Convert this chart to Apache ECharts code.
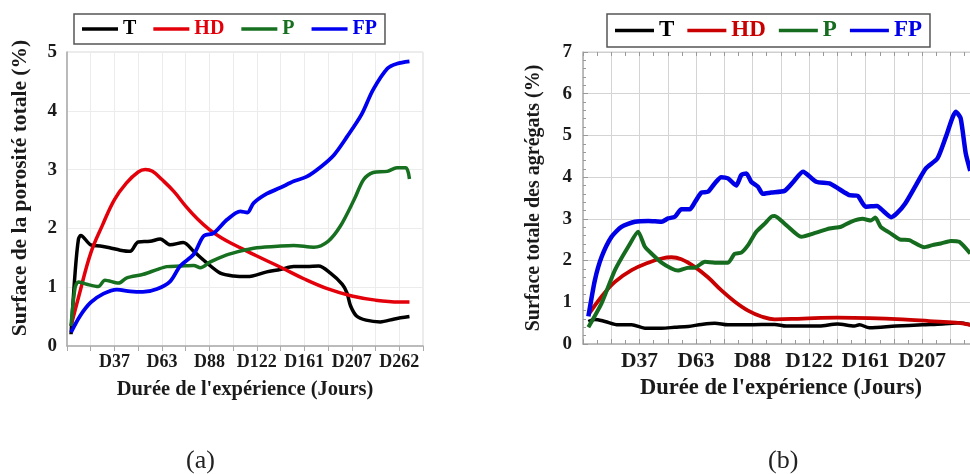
<!DOCTYPE html>
<html>
<head>
<meta charset="utf-8">
<script src="https://cdn.jsdelivr.net/npm/echarts@6/dist/echarts.min.js"></script>
<style>html,body{margin:0;padding:0;background:#fff;overflow:hidden;width:970px;height:474px}#c{width:1010px;height:474px}</style>
</head>
<body>
<div id="c"></div>
<script>
// Tick labels (placed every second grid line, from line 2)
var xTickLabelsA = ['D37','D63','D88','D122','D161','D207','D262'];
var xTickLabelsB = ['D37','D63','D88','D122','D161','D207'];
var seriesNames = ['T','HD','P','FP'];

// Panel (a): Surface de la porosité totale (%)
var aT_x = [0.17,0.34,0.48,0.58,1.0,1.4,1.8,2.24,2.66,3.0,3.5,3.93,4.35,4.9,5.34,5.9,6.46,7.03,7.6,8.42,8.98,9.55,10.1,10.6,11.1,11.6,11.8,11.95,12.2,12.6,13.2,13.8,14.43];
var aT_y = [0.2,1.24,1.81,1.88,1.72,1.70,1.67,1.63,1.61,1.77,1.78,1.82,1.72,1.76,1.61,1.41,1.24,1.19,1.18,1.26,1.30,1.35,1.35,1.36,1.24,1.05,0.9,0.68,0.51,0.44,0.41,0.46,0.50];
var aHD_x = [0.17,0.5,1.0,1.5,2.0,2.5,3.0,3.3,3.6,4.0,4.5,5.0,5.5,6.0,6.5,7.0,7.3,8,9,10,11,12,13,14,14.43];
var aHD_y = [0.34,0.85,1.58,2.06,2.49,2.77,2.96,3.0,2.97,2.83,2.63,2.38,2.16,1.98,1.84,1.73,1.67,1.53,1.34,1.14,0.97,0.85,0.78,0.75,0.75];
var aP_x = [0.17,0.34,0.48,0.83,1.32,1.6,2.17,2.52,3.22,3.79,4.21,4.77,5.34,5.62,6.04,6.6,7.17,7.6,8,9,9.55,10.4,11,11.52,12.1,12.5,12.9,13.5,13.9,14.28,14.43];
var aP_y = [0.34,0.99,1.09,1.05,1.01,1.12,1.07,1.16,1.22,1.30,1.35,1.36,1.37,1.33,1.43,1.53,1.60,1.64,1.67,1.70,1.71,1.68,1.78,2.04,2.49,2.83,2.95,2.97,3.03,3.03,2.84];
var aFP_x = [0.17,0.55,1.0,1.54,2.1,2.66,3.2,3.79,4.35,4.77,5.34,5.76,6.18,6.75,7.3,7.6,7.86,8.42,8.98,9.55,10.1,10.7,11.25,11.8,12.4,12.9,13.5,13.9,14.43];
var aFP_y = [0.23,0.51,0.74,0.89,0.96,0.93,0.92,0.97,1.10,1.36,1.56,1.87,1.92,2.15,2.29,2.27,2.43,2.59,2.69,2.80,2.88,3.05,3.25,3.56,3.93,4.36,4.72,4.80,4.84];

// Panel (b): Surface totale des agrégats (%)
var bT_x = [0.19,0.42,0.78,1.25,1.72,2.19,2.78,3.25,3.72,4.19,4.66,5.13,5.84,6.78,7.19,8.36,9.0,9.6,9.78,10.13,11.07,12.01,12.72,13.31,13.7];
var bT_y = [0.54,0.59,0.54,0.46,0.46,0.38,0.38,0.40,0.42,0.47,0.50,0.46,0.46,0.47,0.43,0.43,0.48,0.43,0.46,0.39,0.43,0.46,0.48,0.51,0.46];
var bHD_x = [0.19,0.66,1.13,1.72,2.31,2.78,3.13,3.48,3.95,4.42,4.89,5.36,5.84,6.31,6.78,7.78,9.0,10.13,11.3,12.25,13.19,13.7];
var bHD_y = [0.70,1.14,1.49,1.77,1.95,2.05,2.08,2.03,1.85,1.60,1.29,1.02,0.80,0.66,0.59,0.61,0.63,0.62,0.59,0.55,0.51,0.46];
var bP_x = [0.19,0.66,1.13,1.6,1.95,2.19,2.42,2.78,3.13,3.36,3.72,3.95,4.31,4.66,5.13,5.36,5.6,5.84,6.13,6.42,6.66,6.78,7.19,7.72,8.25,8.72,9.13,9.48,9.89,10.19,10.34,10.54,10.84,11.2,11.54,12.07,12.36,12.66,13.01,13.31,13.7];
var bP_y = [0.40,0.98,1.77,2.33,2.69,2.33,2.17,1.95,1.81,1.76,1.83,1.83,1.97,1.95,1.95,2.16,2.19,2.37,2.69,2.88,3.05,3.07,2.85,2.57,2.67,2.77,2.81,2.93,3.00,2.96,3.03,2.80,2.67,2.51,2.49,2.32,2.37,2.41,2.47,2.45,2.17];
var bFP_x = [0.19,0.42,0.66,1.01,1.36,1.84,2.31,2.78,3.01,3.25,3.48,3.78,3.95,4.19,4.42,4.66,4.89,5.13,5.42,5.6,5.78,5.95,6.19,6.36,6.66,7.13,7.42,7.78,8.25,8.72,9.07,9.42,9.72,10.0,10.4,10.65,10.9,11.1,11.4,11.78,12.13,12.54,12.84,13.19,13.36,13.54,13.7];
var bFP_y = [0.66,1.53,2.09,2.57,2.81,2.93,2.95,2.93,3.01,3.05,3.23,3.23,3.39,3.63,3.65,3.85,4.00,3.97,3.80,4.05,4.09,3.89,3.77,3.60,3.63,3.67,3.87,4.13,3.89,3.85,3.71,3.57,3.55,3.29,3.31,3.17,3.04,3.13,3.37,3.81,4.21,4.45,4.97,5.57,5.41,4.57,4.15];

function pairs(xs, ys){ return xs.map(function(x,i){ return [x, ys[i]]; }); }
var colorsA = {T:'#000000', HD:'#e3000b', P:'#16701f', FP:'#0000f0'};
var colorsB = {T:'#000000', HD:'#c80000', P:'#156b1e', FP:'#0000e6'};
var FONT = '"Liberation Serif", "DejaVu Serif", serif';

function labelFmt(list){
  return function(v){ return (v > 0 && v % 2 === 0 && list[v/2 - 1]) ? list[v/2 - 1] : ''; };
}

function mkSeries(name, xs, ys, xi, yi, color, width, smooth){
  return {type:'line', name:name, xAxisIndex:xi, yAxisIndex:yi, data:pairs(xs, ys),
    symbol:'none', smooth:smooth, lineStyle:{color:color, width:width}, itemStyle:{color:color},
    z: 5};
}

function legendCfg(left, colors, itemW, gap, fs){
  return {left:left, top:14, orient:'horizontal', icon:'rect', itemWidth:itemW, itemHeight:3.5, itemGap:gap,
    padding:[5,8,5,8], borderColor:'#555', borderWidth:1.5, backgroundColor:'#fff',
    data: seriesNames.map(function(n){ return {name:n, textStyle:{color:colors[n]}, itemStyle:{color:colors[n]}}; }),
    textStyle:{fontFamily:FONT, fontWeight:'bold', fontSize:fs}};
}

function nameStyle(fs, pad){
  return {fontFamily:FONT, fontWeight:'bold', fontSize:fs, color:'#1a1a1a', padding:pad || 0};
}
function tickStyle(fs){
  return {fontFamily:FONT, fontWeight:'bold', fontSize:fs, color:'#1a1a1a'};
}

var option = {
  animation:false,
  backgroundColor:'#fff',
  title:[
    {text:'(a)', left:181, top:443, textStyle:{fontFamily:FONT, fontWeight:'normal', fontSize:26, color:'#222'}},
    {text:'(b)', left:763, top:443, textStyle:{fontFamily:FONT, fontWeight:'normal', fontSize:26, color:'#222'}}
  ],
  legend:[ legendCfg(74, colorsA, 36, 17, 20), legendCfg(607, colorsB, 39, 13, 23) ],
  grid:[
    {left:67, top:52, width:356, height:294, show:true, borderColor:'#d8d8d8', borderWidth:1, backgroundColor:'transparent'},
    {left:583, top:52, width:425, height:292, show:true, borderColor:'#cfcfcf', borderWidth:1, backgroundColor:'transparent'}
  ],
  xAxis:[
    {type:'value', gridIndex:0, min:0, max:15, interval:1,
      name:"Durée de l'expérience (Jours)", nameLocation:'middle', nameGap:33, nameTextStyle:nameStyle(20.5),
      axisLine:{lineStyle:{color:'#aaaaaa', width:1.5}},
      axisTick:{show:true, inside:false, length:5, lineStyle:{color:'#aaaaaa'}},
      axisLabel:Object.assign({formatter:labelFmt(xTickLabelsA), margin:7, hideOverlap:false}, tickStyle(18)),
      splitLine:{show:true, lineStyle:{color:'#ececec', width:1}}},
    {type:'value', gridIndex:1, min:0, max:15, interval:1,
      name:"Durée de l'expérience (Jours)", nameLocation:'middle', nameGap:31,
      nameTextStyle:nameStyle(22.5, [0,28,0,0]),
      axisLine:{lineStyle:{color:'#b0b0b0', width:1.5}},
      axisTick:{show:true, inside:true, length:5, lineStyle:{color:'#999'}},
      minorTick:{show:true, splitNumber:2, length:4, lineStyle:{color:'#999'}},
      axisLabel:Object.assign({formatter:labelFmt(xTickLabelsB), margin:6, hideOverlap:false}, tickStyle(21.5)),
      splitLine:{show:true, lineStyle:{color:'#d4d4d4', width:1}}},
    {type:'value', gridIndex:1, min:0, max:15, interval:1, position:'top',
      axisLine:{show:true, lineStyle:{color:'#cfcfcf', width:1}},
      axisTick:{show:true, inside:true, length:4, lineStyle:{color:'#999'}},
      minorTick:{show:true, splitNumber:2, length:4, lineStyle:{color:'#999'}},
      axisLabel:{show:false}, splitLine:{show:false}}
  ],
  yAxis:[
    {type:'value', gridIndex:0, min:0, max:5, interval:1,
      name:'Surface de la porosité totale (%)', nameLocation:'middle', nameGap:36,
      nameTextStyle:nameStyle(21.5, [0,0,0,22]),
      axisLine:{show:true, lineStyle:{color:'#aaaaaa', width:1.5}},
      axisTick:{show:false},
      axisLabel:Object.assign({margin:10}, tickStyle(19)),
      splitLine:{show:true, lineStyle:{color:'#ececec', width:1}}},
    {type:'value', gridIndex:1, min:0, max:7, interval:1,
      name:'Surface totale des agrégats (%)', nameLocation:'middle', nameGap:39,
      nameTextStyle:nameStyle(20),
      axisLine:{show:true, lineStyle:{color:'#b0b0b0', width:1.5}},
      axisTick:{show:true, inside:true, length:5, lineStyle:{color:'#999'}},
      minorTick:{show:true, splitNumber:5, length:3, lineStyle:{color:'#999'}},
      axisLabel:Object.assign({margin:11}, tickStyle(19)),
      splitLine:{show:true, lineStyle:{color:'#d4d4d4', width:1}}}
  ],
  series:[
    mkSeries('T', aT_x, aT_y, 0, 0, colorsA.T, 3.5, 0.3),
    mkSeries('HD', aHD_x, aHD_y, 0, 0, colorsA.HD, 3.5, 0.4),
    mkSeries('P', aP_x, aP_y, 0, 0, colorsA.P, 3.5, 0.3),
    mkSeries('FP', aFP_x, aFP_y, 0, 0, colorsA.FP, 3.8, 0.3),
    mkSeries('T', bT_x, bT_y, 1, 1, colorsB.T, 3.5, 0.3),
    mkSeries('HD', bHD_x, bHD_y, 1, 1, colorsB.HD, 3.8, 0.4),
    mkSeries('P', bP_x, bP_y, 1, 1, colorsB.P, 4, 0.2),
    mkSeries('FP', bFP_x, bFP_y, 1, 1, colorsB.FP, 4.5, 0.2)
  ]
};
var chart = echarts.init(document.getElementById('c'), null, {renderer:'canvas'});
chart.setOption(option);
</script>
</body>
</html>
